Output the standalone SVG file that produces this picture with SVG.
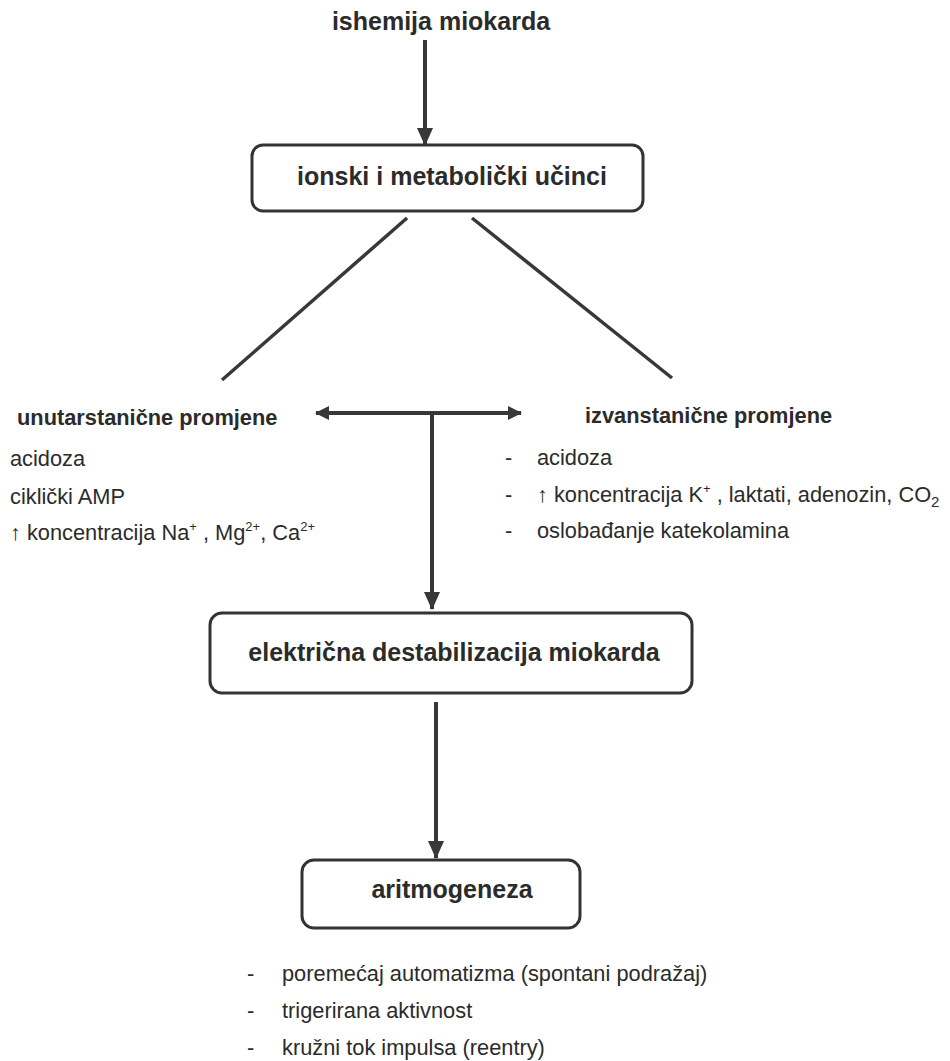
<svg xmlns="http://www.w3.org/2000/svg" width="950" height="1061" viewBox="0 0 950 1061">
<defs>
<style>
.bg{fill:#ffffff}
.box{fill:#ffffff;stroke:#333333;stroke-width:3}
.hb{font-family:"Liberation Sans",Arial,sans-serif;font-weight:bold;font-size:25px;fill:#2b2b2b}
.sb{font-family:"Liberation Sans",Arial,sans-serif;font-weight:bold;font-size:21.8px;fill:#2b2b2b}
.tx{font-family:"Liberation Sans",Arial,sans-serif;font-size:21.8px;fill:#2b2b2b}
.ln{stroke:#383838;stroke-width:4;fill:none}
.thin{stroke:#383838;stroke-width:3.5;fill:none}
</style>
<marker id="ah" markerUnits="userSpaceOnUse" markerWidth="18" markerHeight="16" refX="17" refY="8" orient="auto-start-reverse" viewBox="0 0 18 16">
<path d="M0,0 L18,8 L0,16 z" fill="#383838"/>
</marker>
<marker id="ahs" markerUnits="userSpaceOnUse" markerWidth="14" markerHeight="14" refX="13" refY="7" orient="auto-start-reverse" viewBox="0 0 14 14">
<path d="M0,0 L14,7 L0,14 z" fill="#383838"/>
</marker>
</defs>
<rect class="bg" x="0" y="0" width="950" height="1061"/>

<g id="connectors">
<line class="ln" x1="425" y1="40" x2="425" y2="145" marker-end="url(#ah)"/>
<line class="thin" x1="407" y1="218" x2="222" y2="380"/>
<line class="thin" x1="472" y1="218" x2="672" y2="378"/>
<line class="ln" x1="316" y1="413" x2="521" y2="413" marker-start="url(#ahs)" marker-end="url(#ahs)"/>
<line class="ln" x1="432" y1="413" x2="432" y2="609" marker-end="url(#ah)"/>
<line class="ln" x1="436" y1="702" x2="436" y2="858" marker-end="url(#ah)"/>
</g>

<g id="n-ishemija">
<text class="hb" x="441" y="30" text-anchor="middle">ishemija miokarda</text>
</g>

<g id="n-ionski">
<rect class="box" x="252" y="145" width="391" height="66" rx="11"/>
<text class="hb" x="452" y="185" text-anchor="middle">ionski i metabolički učinci</text>
</g>

<g id="n-unutar">
<text class="sb" x="17" y="425">unutarstanične promjene</text>
<text class="tx" x="10" y="466">acidoza</text>
<text class="tx" x="10" y="504">ciklički AMP</text>
<text class="tx" x="10" y="540">↑ koncentracija Na<tspan dy="-9" font-size="13">+</tspan><tspan dy="9"> , Mg</tspan><tspan dy="-9" font-size="13">2+</tspan><tspan dy="9">, Ca</tspan><tspan dy="-9" font-size="13">2+</tspan></text>
</g>

<g id="n-izvan">
<text class="sb" x="585" y="423">izvanstanične promjene</text>
<text class="tx" x="505" y="465">-</text>
<text class="tx" x="537" y="465">acidoza</text>
<text class="tx" x="505" y="502">-</text>
<text class="tx" x="537" y="502">↑ koncentracija K<tspan dy="-9" font-size="13">+</tspan><tspan dy="9"> , laktati, adenozin, CO</tspan><tspan dy="5" font-size="15">2</tspan></text>
<text class="tx" x="505" y="538">-</text>
<text class="tx" x="537" y="538">oslobađanje katekolamina</text>
</g>

<g id="n-elektricna">
<rect class="box" x="210" y="613" width="482" height="80" rx="12"/>
<text class="hb" x="454" y="661" text-anchor="middle">električna destabilizacija miokarda</text>
</g>

<g id="n-aritmogeneza">
<rect class="box" x="302" y="860" width="278" height="68" rx="12"/>
<text class="hb" x="452" y="898" text-anchor="middle">aritmogeneza</text>
</g>

<g id="n-mehanizmi">
<text class="tx" x="247" y="981">-</text>
<text class="tx" x="282" y="981">poremećaj automatizma (spontani podražaj)</text>
<text class="tx" x="247" y="1018">-</text>
<text class="tx" x="282" y="1018">trigerirana aktivnost</text>
<text class="tx" x="247" y="1055">-</text>
<text class="tx" x="282" y="1055">kružni tok impulsa (reentry)</text>
</g>
</svg>
